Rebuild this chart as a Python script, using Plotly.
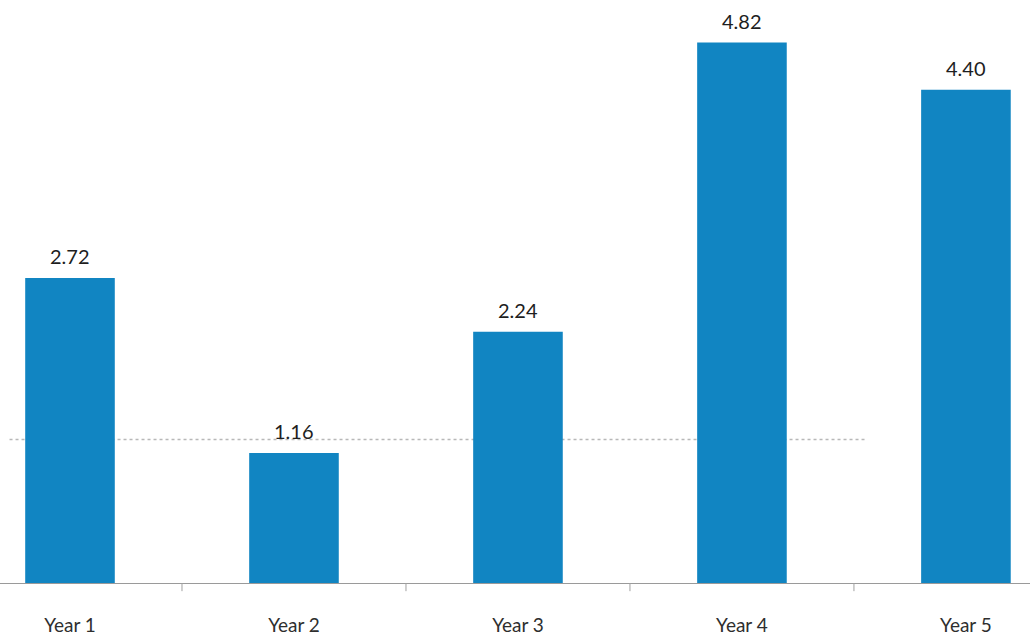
import plotly.graph_objects as go

categories = ["Year 1", "Year 2", "Year 3", "Year 4", "Year 5"]
values = [2.72, 1.16, 2.24, 4.82, 4.40]
value_labels = ["2.72", "1.16", "2.24", "4.82", "4.40"]
ref_level = 1.28  # faint dotted reference line visible in the scan

bar_color = "#1185C2"
font_family = "Lato, 'Open Sans', sans-serif"

fig = go.Figure()
fig.add_trace(go.Bar(
    x=list(range(len(categories))),
    y=values,
    width=0.40,
    marker=dict(color=bar_color, line=dict(width=0)),
    hoverinfo="skip",
))

for i, (v, lab) in enumerate(zip(values, value_labels)):
    fig.add_annotation(
        x=i, y=v, text=lab, showarrow=False,
        yanchor="bottom", yshift=8,
        font=dict(family=font_family, size=20, color="#1e1e1e"),
    )

fig.add_shape(
    type="line", xref="x", yref="y",
    x0=-0.27, x1=3.55, y0=ref_level, y1=ref_level,
    line=dict(color="#b8b8b8", width=1.5, dash="dot"),
    layer="below",
)

fig.update_layout(
    width=1030, height=641,
    margin=dict(l=0, r=0, t=0, b=58),
    paper_bgcolor="white", plot_bgcolor="white",
    showlegend=False,
    font=dict(family=font_family, size=19, color="#333333"),
    bargap=0.6,
)
fig.update_xaxes(
    range=[-0.3125, 4.286],
    tickmode="array",
    tickvals=list(range(len(categories))),
    ticktext=categories,
    showgrid=False, zeroline=False,
    showline=True, linecolor="#9a9a9a", linewidth=1.2,
    ticks="",
    ticklabelstandoff=25,
    tickfont=dict(family=font_family, size=19, color="#2e2e2e"),
)
# boundary tick marks between categories
for b in [0.5, 1.5, 2.5, 3.5]:
    fig.add_shape(
        type="line", xref="x", yref="paper",
        x0=b, x1=b, y0=0, y1=-0.014,
        line=dict(color="#a0a0a0", width=1),
    )
fig.update_yaxes(
    range=[0, 5.2],
    visible=False,
    showgrid=False, zeroline=False,
)

fig.write_html("out.html")
